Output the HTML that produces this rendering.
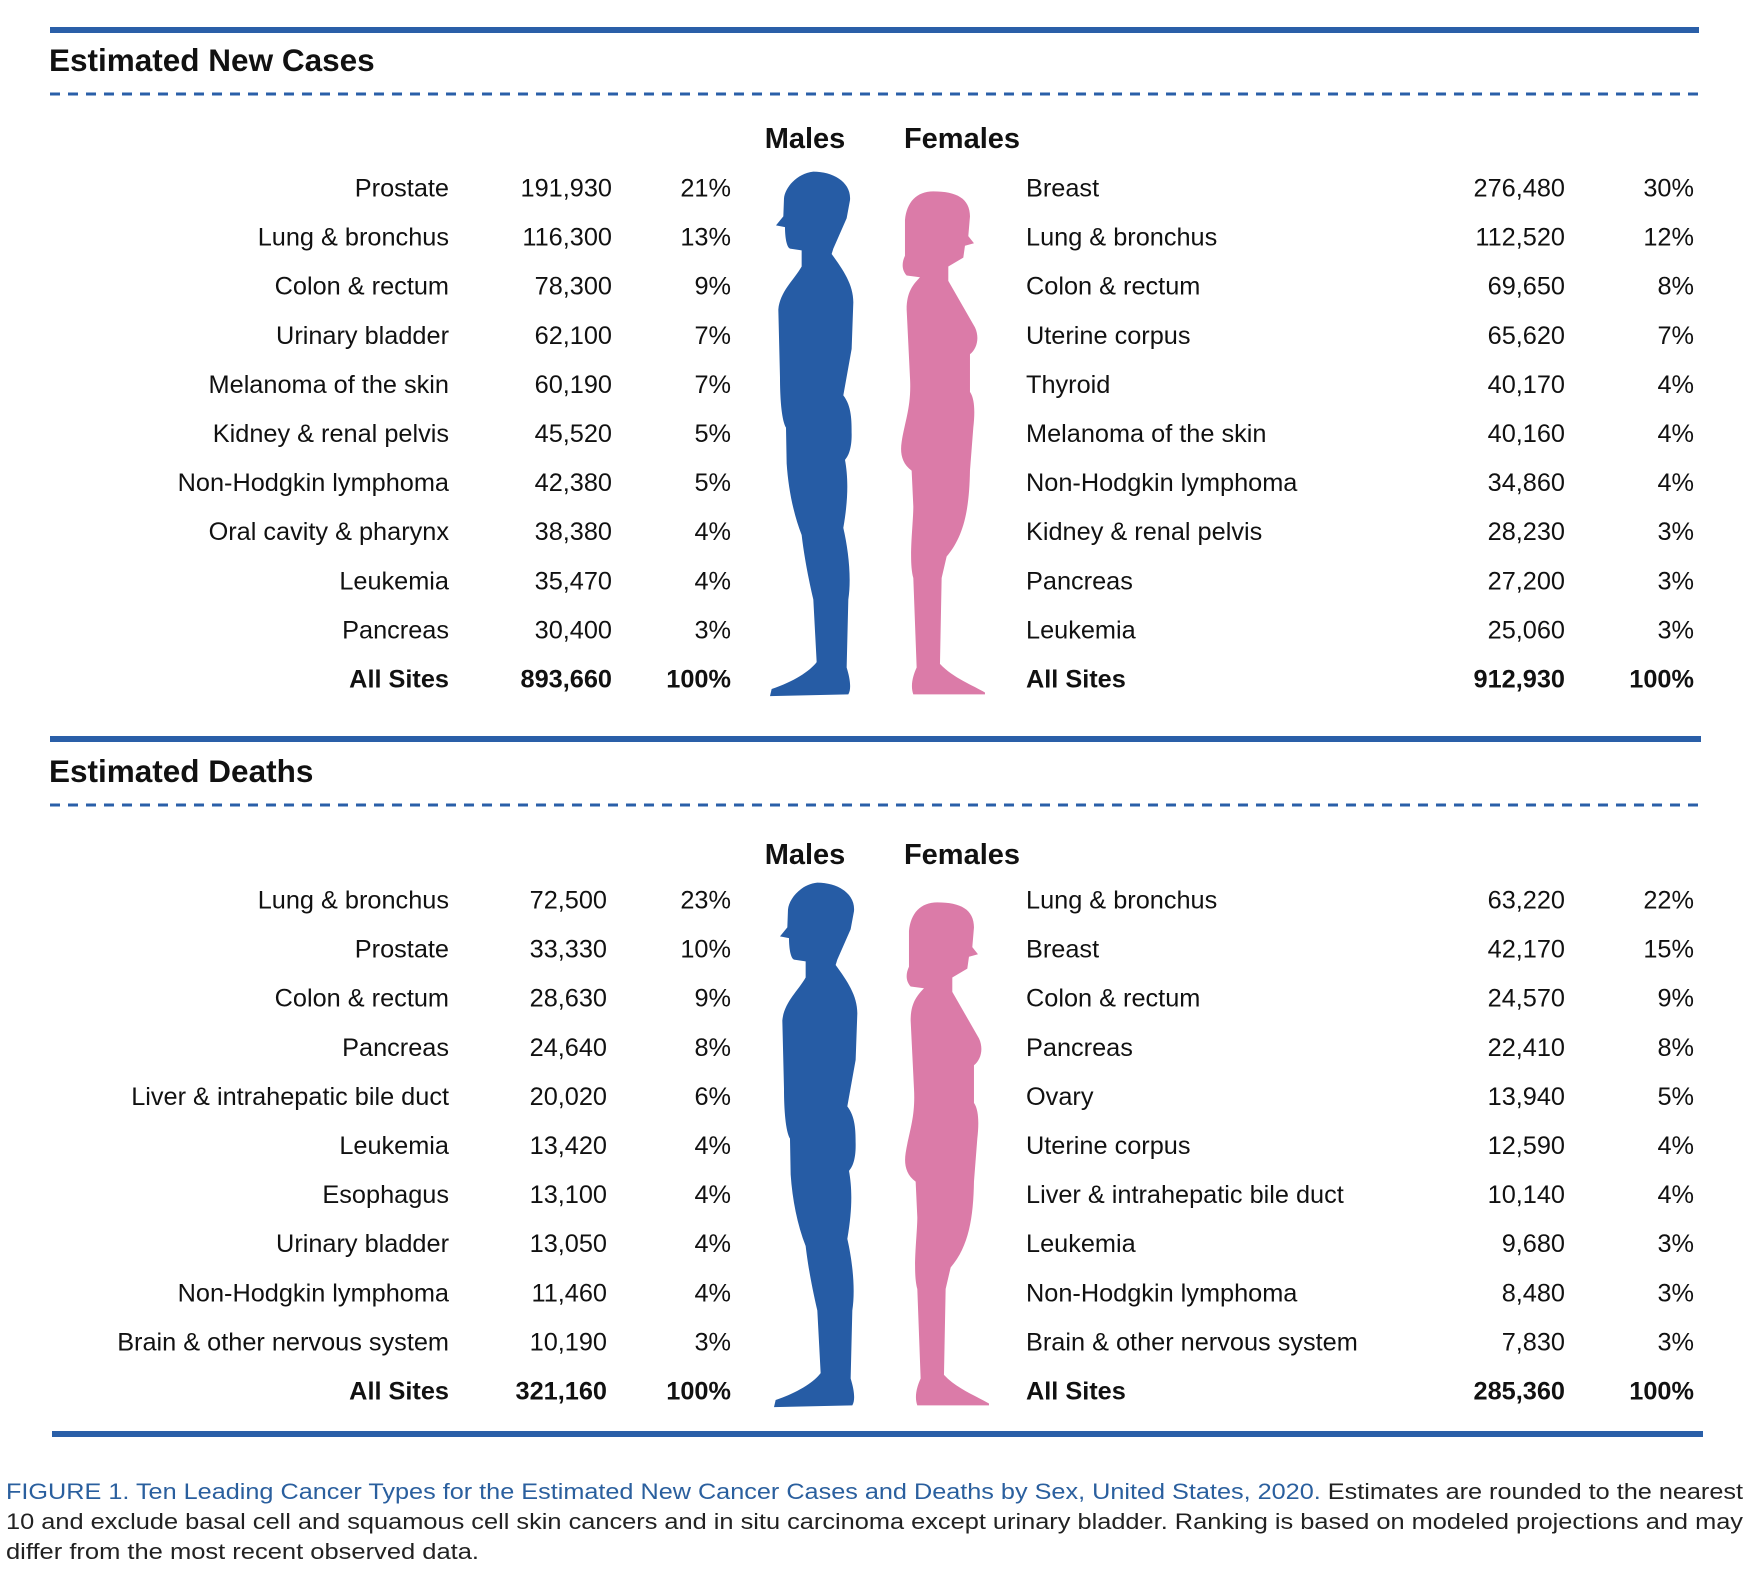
<!DOCTYPE html>
<html><head><meta charset="utf-8">
<style>
html,body{margin:0;padding:0;background:#fff;}
svg{display:block;font-family:"Liberation Sans",Arial,sans-serif;}
</style></head>
<body>
<svg id="fig" width="1750" height="1570" viewBox="0 0 1750 1570" xmlns="http://www.w3.org/2000/svg">
<rect x="50" y="27" width="1649" height="6" fill="#2a5fa8"/>
<text x="49" y="71" font-size="31.5" font-weight="bold" fill="#111">Estimated New Cases</text>
<line x1="50" y1="94" x2="1699" y2="94" stroke="#2a5fa8" stroke-width="3" stroke-dasharray="10,8"/>
<rect x="50" y="736" width="1651" height="6" fill="#2a5fa8"/>
<text x="49" y="782" font-size="31.5" font-weight="bold" fill="#111">Estimated Deaths</text>
<line x1="50" y1="805" x2="1701" y2="805" stroke="#2a5fa8" stroke-width="3" stroke-dasharray="10,8"/>
<rect x="52" y="1431" width="1651" height="6" fill="#2a5fa8"/>
<g font-size="22">
<text x="6" y="1499" textLength="1737" lengthAdjust="spacingAndGlyphs"><tspan fill="#2a5f9e">FIGURE 1. Ten Leading Cancer Types for the Estimated New Cancer Cases and Deaths by Sex, United States, 2020.</tspan><tspan fill="#222"> Estimates are rounded to the nearest</tspan></text>
<text x="6" y="1529" textLength="1737" lengthAdjust="spacingAndGlyphs" fill="#222">10 and exclude basal cell and squamous cell skin cancers and in situ carcinoma except urinary bladder. Ranking is based on modeled projections and may</text>
<text x="6" y="1559" textLength="473" lengthAdjust="spacingAndGlyphs" fill="#222">differ from the most recent observed data.</text>
</g>
<defs>
<path id="maleShape" d="M340,65 C400,65 455,95 450,145 L440,195 L400,280 L395,295 C430,340 460,380 460,430 L455,560 L430,690 C455,720 455,760 455,800 C455,840 445,860 435,870 C445,920 445,980 430,1060 C445,1120 455,1200 445,1260 L440,1450 C450,1480 455,1510 445,1525 L210,1530 L215,1510 C280,1490 330,1460 350,1435 L340,1260 C320,1180 310,1120 305,1080 C280,1020 265,950 260,880 L258,780 C245,760 240,700 240,640 L235,450 C240,400 280,370 305,330 L305,285 L270,280 C258,275 255,240 255,220 L228,215 L250,190 L252,140 C255,110 290,70 340,65 Z"/>
<path id="femaleShape" d="M700,120 C770,120 810,140 810,190 L805,245 L822,265 L795,272 L790,305 L745,330 L745,370 L825,500 C840,530 830,560 810,575 L810,680 C825,700 825,740 820,780 L810,900 C808,1000 795,1080 740,1140 L725,1200 L720,1440 C760,1480 820,1500 855,1520 L855,1525 L640,1525 C630,1500 640,1470 650,1450 L640,1200 C625,1150 640,1050 640,1000 L635,900 C605,880 600,850 605,820 C615,760 635,720 630,640 L620,450 C620,400 640,380 660,360 L620,355 C605,340 605,320 615,300 L615,200 C620,150 650,120 700,120 Z"/>
</defs>
<g transform="translate(700,148.4) scale(0.3333,0.358)"><use href="#maleShape" fill="#265ca5"/><use href="#femaleShape" fill="#db7ba8"/></g>
<g transform="translate(704,859.4) scale(0.3333,0.358)"><use href="#maleShape" fill="#265ca5"/><use href="#femaleShape" fill="#db7ba8"/></g>
<g id="tables"></g>
</svg>
<script>
const casesMaleSites = ["Prostate","Lung & bronchus","Colon & rectum","Urinary bladder","Melanoma of the skin","Kidney & renal pelvis","Non-Hodgkin lymphoma","Oral cavity & pharynx","Leukemia","Pancreas","All Sites"];
const casesMaleValues = ["191,930","116,300","78,300","62,100","60,190","45,520","42,380","38,380","35,470","30,400","893,660"];
const casesMalePcts = ["21%","13%","9%","7%","7%","5%","5%","4%","4%","3%","100%"];
const casesFemaleSites = ["Breast","Lung & bronchus","Colon & rectum","Uterine corpus","Thyroid","Melanoma of the skin","Non-Hodgkin lymphoma","Kidney & renal pelvis","Pancreas","Leukemia","All Sites"];
const casesFemaleValues = ["276,480","112,520","69,650","65,620","40,170","40,160","34,860","28,230","27,200","25,060","912,930"];
const casesFemalePcts = ["30%","12%","8%","7%","4%","4%","4%","3%","3%","3%","100%"];
const deathsMaleSites = ["Lung & bronchus","Prostate","Colon & rectum","Pancreas","Liver & intrahepatic bile duct","Leukemia","Esophagus","Urinary bladder","Non-Hodgkin lymphoma","Brain & other nervous system","All Sites"];
const deathsMaleValues = ["72,500","33,330","28,630","24,640","20,020","13,420","13,100","13,050","11,460","10,190","321,160"];
const deathsMalePcts = ["23%","10%","9%","8%","6%","4%","4%","4%","4%","3%","100%"];
const deathsFemaleSites = ["Lung & bronchus","Breast","Colon & rectum","Pancreas","Ovary","Uterine corpus","Liver & intrahepatic bile duct","Leukemia","Non-Hodgkin lymphoma","Brain & other nervous system","All Sites"];
const deathsFemaleValues = ["63,220","42,170","24,570","22,410","13,940","12,590","10,140","9,680","8,480","7,830","285,360"];
const deathsFemalePcts = ["22%","15%","9%","8%","5%","4%","4%","3%","3%","3%","100%"];

const NS="http://www.w3.org/2000/svg";
const root=document.getElementById('tables');
function txt(x,y,s,anchor,bold,size,name){
  const t=document.createElementNS(NS,'text');
  t.setAttribute('x',x);t.setAttribute('y',y);
  t.setAttribute('text-anchor',anchor);
  t.setAttribute('font-size',size);
  if(bold)t.setAttribute('font-weight','bold');
  t.setAttribute('fill','#111');
  t.textContent=s;
  
  
  root.appendChild(t);
}
function section(y0,headY,mS,mV,mP,fS,fV,fP,mValX,tag){
  txt(805,headY,'Males','middle',true,29,tag+'-males-header');
  txt(962,headY,'Females','middle',true,29,tag+'-females-header');
  const step=49.1;
  for(let i=0;i<mS.length;i++){
    const y=y0+i*step+9, b=(i===mS.length-1);
    txt(449,y,mS[i],'end',b,25.3,tag+'-male-site');
    txt(mValX,y,mV[i],'end',b,25.3,tag+'-male-value');
    txt(731,y,mP[i],'end',b,25.3,tag+'-male-pct');
    txt(1026,y,fS[i],'start',b,25.3,tag+'-female-site');
    txt(1565,y,fV[i],'end',b,25.3,tag+'-female-value');
    txt(1694,y,fP[i],'end',b,25.3,tag+'-female-pct');
  }
}
section(187.5,148,casesMaleSites,casesMaleValues,casesMalePcts,casesFemaleSites,casesFemaleValues,casesFemalePcts,612,'cases');
section(899.5,864,deathsMaleSites,deathsMaleValues,deathsMalePcts,deathsFemaleSites,deathsFemaleValues,deathsFemalePcts,607,'deaths');
</script>
</body></html>
